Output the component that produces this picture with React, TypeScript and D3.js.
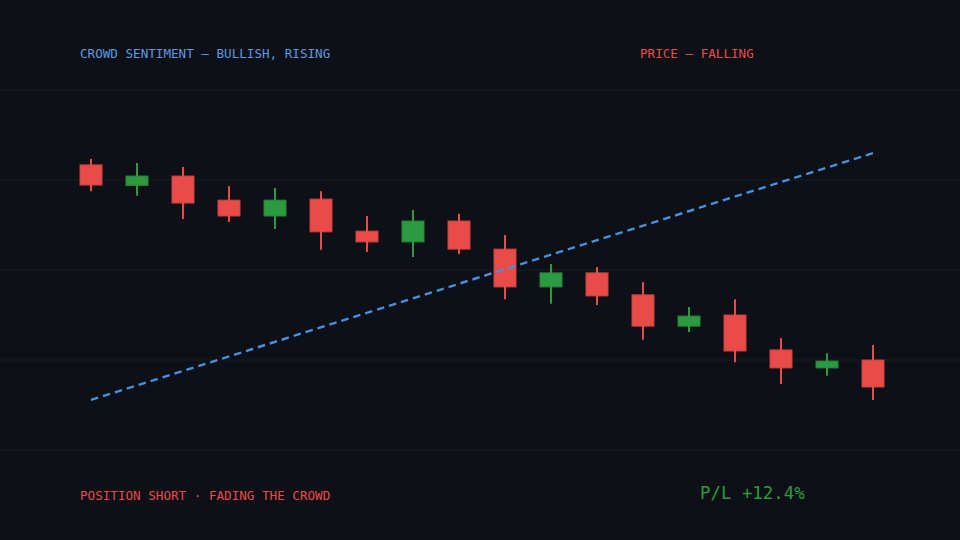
import React from 'react';
import * as d3 from 'd3';

// candles (price units, higher = up)
const opens = [79.2, 73.5, 76.1, 69.4, 65.0, 69.7, 60.8, 57.8, 63.6, 55.8, 45.3, 49.2, 43.1, 34.4, 37.5, 27.8, 22.8, 25.0];
const closes = [73.6, 76.1, 68.6, 65.0, 69.4, 60.6, 57.8, 63.6, 55.8, 45.3, 49.2, 42.8, 34.4, 37.2, 27.5, 22.8, 24.7, 17.5];
const highs = [80.8, 79.7, 78.6, 73.3, 72.8, 71.9, 65.0, 66.7, 65.6, 59.7, 51.7, 50.8, 46.7, 39.7, 41.9, 31.1, 26.9, 29.2];
const lows = [71.9, 70.6, 64.2, 63.3, 61.4, 55.6, 55.0, 53.6, 54.4, 41.9, 40.6, 40.3, 30.6, 32.8, 24.4, 18.3, 20.6, 13.9];
const sentimentIdx = [0, 17];
const sentimentVals = [13.9, 82.5];
const gridTicks = [0, 25, 50, 75, 100];

const W = 960;
const H = 540;
const BG = '#0d1017';
const RED = '#e84b48';
const GREEN = '#2b9a40';
const BLUE = '#4a8fdf';
const FONT = '"DejaVu Sans Mono", monospace';

export default function App() {
  const x = d3.scalePoint<number>().domain(d3.range(opens.length)).range([91, 873]);
  const y = d3.scaleLinear().domain([0, 100]).range([450, 90]);
  const bodyW = 22;

  const candles = opens.map((o, i) => {
    const c = closes[i];
    return {
      i,
      o,
      c,
      h: Math.max(highs[i], o, c),
      l: Math.min(lows[i], o, c),
      up: c > o,
    };
  });

  const line = d3
    .line<number>()
    .x((_, k) => x(sentimentIdx[k]) as number)
    .y((v) => y(v));

  return (
    <svg width={W} height={H} style={{ position: 'absolute', left: 0, top: 0, background: BG }}>
      <rect width={W} height={H} fill={BG} />
      {gridTicks.map((t) => (
        <line key={t} x1={0} x2={W} y1={y(t)} y2={y(t)} stroke="#161a22" strokeWidth={1.2} />
      ))}
      {candles.map((d) => {
        const cx = x(d.i) as number;
        const col = d.up ? GREEN : RED;
        const top = y(Math.max(d.o, d.c));
        const bot = y(Math.min(d.o, d.c));
        return (
          <g key={d.i}>
            <rect
              x={cx - bodyW / 2}
              y={top}
              width={bodyW}
              height={Math.max(1, bot - top)}
              fill={col}
              stroke={d3.color(col)!.darker(0.4).toString()}
              strokeWidth={1}
            />
            <line x1={cx} x2={cx} y1={y(d.h)} y2={y(d.l)} stroke={col} strokeWidth={2} />
          </g>
        );
      })}
      <path
        d={line(sentimentVals) || ''}
        fill="none"
        stroke={BLUE}
        strokeWidth={2.4}
        strokeDasharray="7.5 5"
      />
      <text x={80} y={58} fill="#5b9be0" fontFamily={FONT} fontSize={12.6}>
        CROWD SENTIMENT — BULLISH, RISING
      </text>
      <text x={640} y={58} fill={RED} fontFamily={FONT} fontSize={12.6}>
        PRICE — FALLING
      </text>
      <text x={80} y={500} fill={RED} fontFamily={FONT} fontSize={12.6}>
        POSITION SHORT · FADING THE CROWD
      </text>
      <text x={700} y={499} fill={GREEN} fontFamily={FONT} fontSize={17.4}>
        P/L +12.4%
      </text>
    </svg>
  );
}
